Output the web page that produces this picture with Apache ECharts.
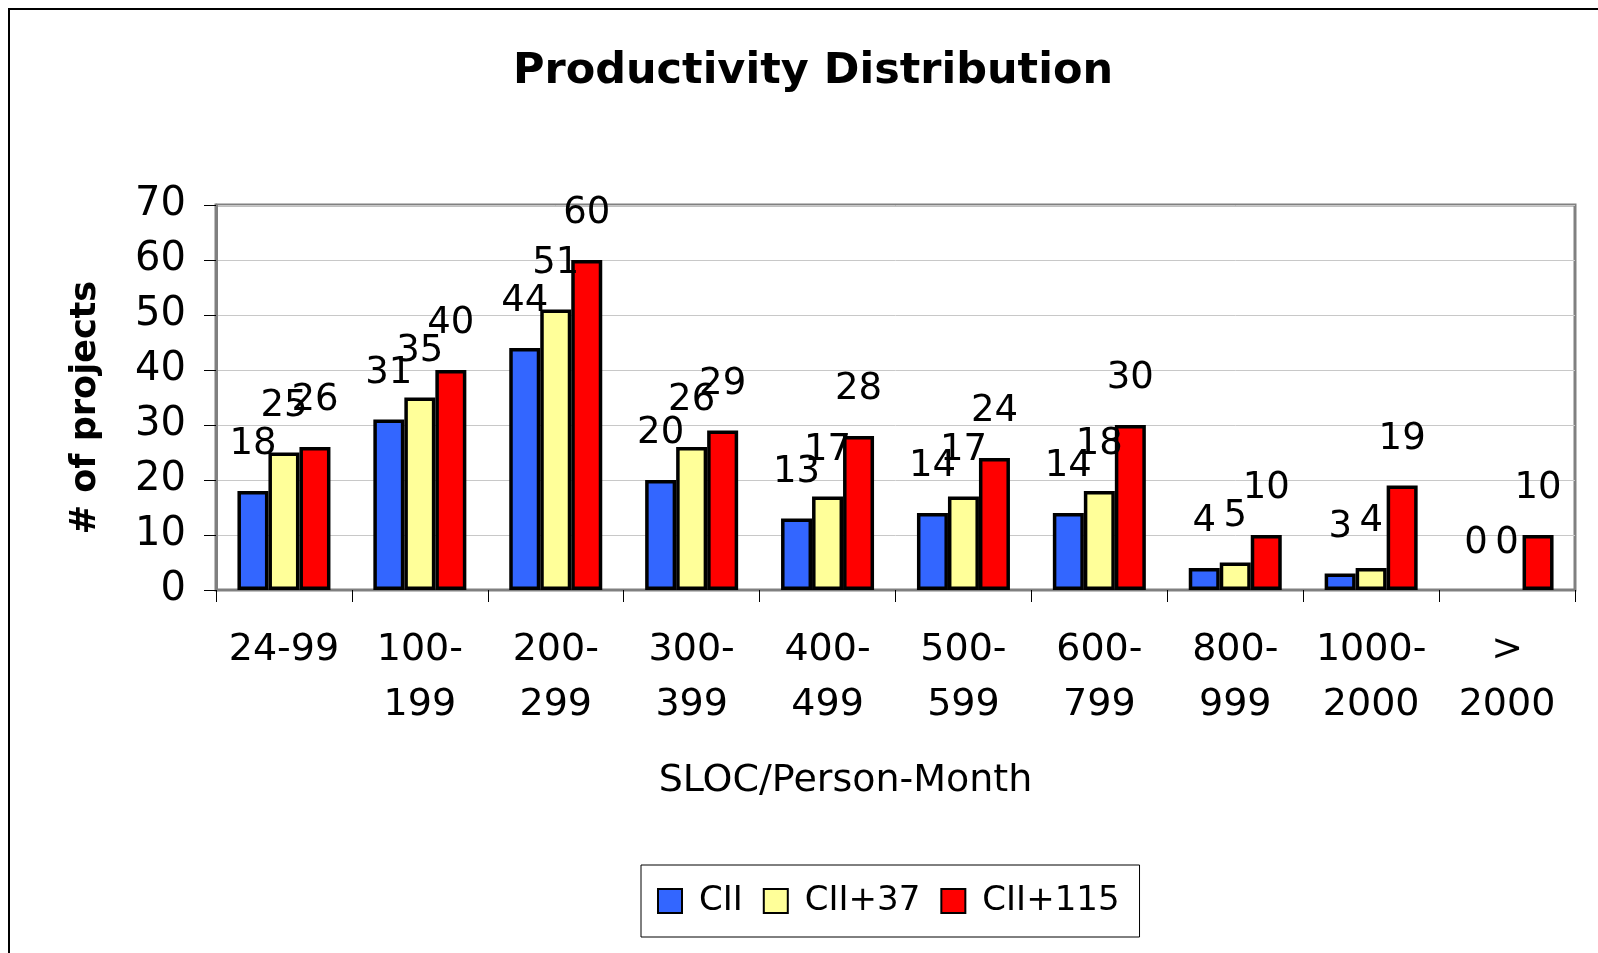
<!DOCTYPE html>
<html>
<head>
<meta charset="utf-8">
<title>Productivity Distribution</title>
<script src="https://cdn.jsdelivr.net/npm/echarts@6/dist/echarts.min.js"></script>
<style>
  html, body { margin: 0; padding: 0; background: #fff; }
  #chart { width: 1598px; height: 953px; }
</style>
</head>
<body>
<div id="chart"></div>
<script>
var categories = ['24-99', '100-\n199', '200-\n299', '300-\n399', '400-\n499', '500-\n599', '600-\n799', '800-\n999', '1000-\n2000', '>\n2000'];
var cii = [18, 31, 44, 20, 13, 14, 14, 4, 3, 0];
var cii37 = [25, 35, 51, 26, 17, 17, 18, 5, 4, 0];
var cii115 = [26, 40, 60, 29, 28, 24, 30, 10, 19, 10];
var yTicks = [0, 10, 20, 30, 40, 50, 60, 70];

var FONT = 'DejaVu Sans';

// zero bars get no outline, like the original
function barData(arr) {
	return arr.map(function(v) {
		return v === 0 ? { value: v, itemStyle: { borderWidth: 0 } } : v;
	});
}

function makeSeries(name, color, arr) {
	return {
		name: name,
		type: 'bar', // 柱状图
		barWidth: 31,
		barGap: '0%',
		data: barData(arr),
		itemStyle: { color: color, borderColor: '#000', borderWidth: 3.5 },
		label: {
			show: true,
			position: 'top',
			distance: 28,
			fontFamily: FONT,
			fontSize: 37,
			color: '#000'
		}
	};
}

var myChart = echarts.init(document.getElementById('chart'));
var option = {
	backgroundColor: '#fff',
	animation: false,
	title: {
		text: 'Productivity Distribution',
		left: 808,
		textAlign: 'center',
		top: 45,
		textStyle: { fontFamily: FONT, fontSize: 43, fontWeight: 'bold', color: '#000' }
	},
	graphic: [{
		type: 'rect',
		shape: { x: 9, y: 9, width: 1700, height: 1100 },
		style: { fill: 'none', stroke: '#000', lineWidth: 2 },
		silent: true
	}],
	legend: {
		left: 641,
		top: 865,
		padding: [19, 20, 19, 16],
		itemGap: 20,
		itemWidth: 24,
		itemHeight: 24,
		icon: 'rect',
		borderColor: '#000',
		borderWidth: 1,
		textStyle: { fontFamily: FONT, fontSize: 34, color: '#000', padding: [0, 0, 0, 12] },
		data: ['CII', 'CII+37', 'CII+115']
	},
	grid: {
		left: 216,
		right: 23,
		top: 205,
		bottom: 363,
		show: true,
		borderColor: '#808080',
		borderWidth: 3
	},
	xAxis: [{
		type: 'category',
		data: categories,
		name: 'SLOC/Person-Month',
		nameLocation: 'middle',
		nameGap: 172,
		nameTextStyle: { fontFamily: FONT, fontSize: 38, color: '#000', padding: [0, 100, 0, 0] },
		axisLine: { lineStyle: { color: '#808080', width: 2 } },
		axisTick: { show: true, length: 12, lineStyle: { color: '#000', width: 1 } },
		axisLabel: { fontFamily: FONT, fontSize: 38, color: '#000', margin: 33, lineHeight: 55, interval: 0 }
	}],
	yAxis: [{
		type: 'value',
		min: yTicks[0],
		max: yTicks[yTicks.length - 1],
		interval: 10,
		name: '# of projects',
		nameLocation: 'middle',
		nameGap: 113,
		nameTextStyle: { fontFamily: FONT, fontSize: 35, fontWeight: 'bold', color: '#000', padding: [0, 20, 0, 0] },
		axisLine: { show: true, lineStyle: { color: '#808080', width: 3 } },
		axisTick: { show: true, length: 12, lineStyle: { color: '#000', width: 1 } },
		splitLine: { show: true, lineStyle: { color: '#c8c8c8', width: 1 } },
		axisLabel: { fontFamily: FONT, fontSize: 40, color: '#000', margin: 30 }
	}],
	series: [
		makeSeries('CII', '#3366ff', cii),
		makeSeries('CII+37', '#ffff99', cii37),
		makeSeries('CII+115', '#ff0000', cii115)
	]
};
myChart.setOption(option);
</script>
</body>
</html>
